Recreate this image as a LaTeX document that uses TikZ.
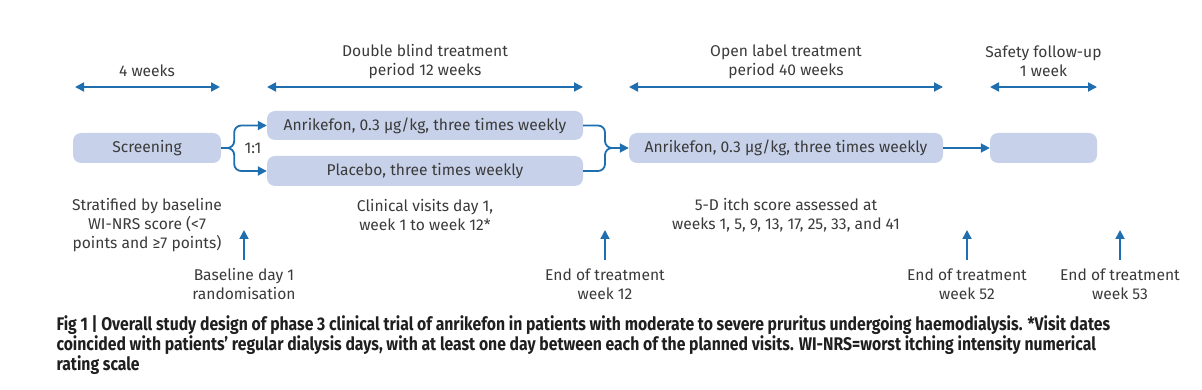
\documentclass[tikz,border=0pt]{standalone}
\usepackage{fontspec}
\setmainfont{Fira Sans}
\newfontfamily\capfont{Fira Sans}[FakeStretch=0.86]
\usetikzlibrary{arrows.meta}
\definecolor{arrblue}{HTML}{1E6EB0}
\definecolor{boxblue}{HTML}{C7D2EA}
\definecolor{txtgray}{HTML}{3A3A3A}
\begin{document}
\begin{tikzpicture}[x=1pt, y=-1pt,
    every node/.style={text=txtgray, font=\fontsize{15.6}{19}\selectfont},
    arm/.style={draw=none, fill=boxblue, rounded corners=8pt, minimum height=30pt, inner sep=0pt},
    arr/.style={draw=arrblue, line width=1.8pt, -{Triangle[length=9pt, width=9pt]}},
    span/.style={draw=arrblue, line width=1.8pt, {Triangle[length=9pt, width=9pt]}-{Triangle[length=9pt, width=9pt]}}]
\useasboundingbox (0,0) rectangle (1202,390);
% arms of the trial
\node[arm, minimum width=148pt] (scr) at (147,148) {Screening};
\node[arm, minimum width=316pt, minimum height=29pt] (dbA) at (425,125.5) {Anrikefon, 0.3 μg/kg, three times weekly};
\node[arm, minimum width=316pt] (dbP) at (425,171) {Placebo, three times weekly};
\node[arm, minimum width=314pt] (olA) at (786,148) {Anrikefon, 0.3 μg/kg, three times weekly};
\node[arm, minimum width=107pt] (sfu) at (1043.5,148) {};
\node (ratio) at (253,148) {1:1};
% randomisation and merge
\draw[arr, rounded corners=7pt] (scr.east) -- ++(13,0) |- (dbA.west);
\draw[arr, rounded corners=7pt] (scr.east) -- ++(13,0) |- (dbP.west);
\coordinate (merge) at (605,148);
\draw[arr, rounded corners=7pt] (dbA.east) -| (merge) -- (olA.west);
\draw[draw=arrblue, line width=1.8pt, rounded corners=7pt] (dbP.east) -| (merge) -- ++(10,0);
\draw[arr] (olA.east) -- (sfu.west);
% periods
\coordinate (p1l) at (75,87);   \coordinate (p1r) at (220,87);
\coordinate (p2l) at (267,87);  \coordinate (p2r) at (583,87);
\coordinate (p3l) at (629,87);  \coordinate (p3r) at (943,87);
\coordinate (p4l) at (990,87);  \coordinate (p4r) at (1097,87);
\draw[span] (p1l) -- (p1r);
\draw[span] (p2l) -- (p2r);
\draw[span] (p3l) -- (p3r);
\draw[span] (p4l) -- (p4r);
\node (t1) at (147,71) {4 weeks};
\node[align=center] (t2) at (425,61.5) {Double blind treatment\\period 12 weeks};
\node[align=center] (t3) at (786,61.5) {Open label treatment\\period 40 weeks};
\node[align=center] (t4) at (1043.5,61.5) {Safety follow-up\\1 week};
% notes under the arms
\node[align=center] (n1) at (147,225) {Stratified by baseline\\WI-NRS score (<7\\points and ≥7 points)};
\node[align=center] (n2) at (425,215.5) {Clinical visits day 1,\\week 1 to week 12*};
\node[align=center] (n3) at (786,215.5) {5-D itch score assessed at\\weeks 1, 5, 9, 13, 17, 25, 33, and 41};
% time points
\node[align=center] (e1) at (244,284) {Baseline day 1\\randomisation};
\node[align=center] (e2) at (605,284) {End of treatment\\week 12};
\node[align=center] (e3) at (967,284) {End of treatment\\week 52};
\node[align=center] (e4) at (1120,284) {End of treatment\\week 53};
\foreach \e/\x in {e1/244, e2/605, e3/967, e4/1120}
    \draw[arr] (\x,260) -- (\x,230);
% caption
\node[anchor=west, align=left, text=black!88, font=\capfont\bfseries\fontsize{18.3}{18.5}\selectfont] (cap) at (53,345)
    {Fig 1 | Overall study design of phase 3 clinical trial of anrikefon in patients with moderate to severe pruritus undergoing haemodialysis. *Visit dates\\
     coincided with patients’ regular dialysis days, with at least one day between each of the planned visits. WI-NRS=worst itching intensity numerical\\
     rating scale};
\end{tikzpicture}
\end{document}
